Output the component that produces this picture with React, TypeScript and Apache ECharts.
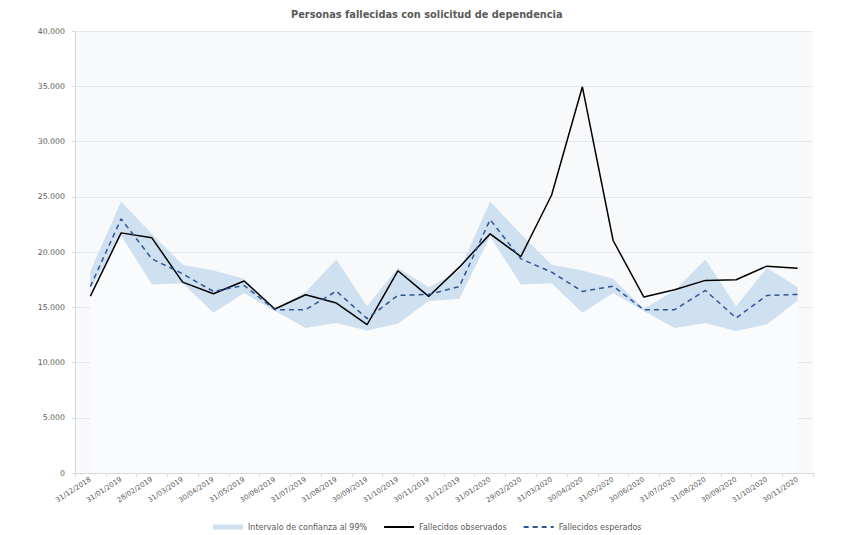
import React, { useEffect, useRef } from "react";
import * as echarts from "echarts";

const categories = [
  "31/12/2018", "31/01/2019", "28/02/2019", "31/03/2019", "30/04/2019", "31/05/2019",
  "30/06/2019", "31/07/2019", "31/08/2019", "30/09/2019", "31/10/2019", "30/11/2019",
  "31/12/2019", "31/01/2020", "29/02/2020", "31/03/2020", "30/04/2020", "31/05/2020",
  "30/06/2020", "31/07/2020", "31/08/2020", "30/09/2020", "31/10/2020", "30/11/2020",
];

const observed = [
  16000, 21730, 21280, 17270, 16220, 17370, 14840, 16130, 15380, 13420, 18300, 15980,
  18630, 21640, 19590, 25160, 34950, 21040, 15920, 16580, 17430, 17490, 18720, 18540,
];

const expected = [
  16880, 23000, 19380, 18030, 16430, 16970, 14780, 14780, 16460, 13970, 16070, 16160,
  16880, 22930, 19380, 18180, 16430, 16910, 14780, 14780, 16520, 14030, 16070, 16160,
];

const upperBound = [
  18270, 24560, 21640, 18840, 18330, 17580, 14870, 16370, 19320, 15080, 18570, 16820,
  18330, 24560, 21640, 18840, 18330, 17580, 14870, 16520, 19320, 15080, 18570, 16820,
];

const lowerBound = [
  16600, 21500, 17070, 17180, 14510, 16280, 14650, 13120, 13570, 12900, 13510, 15560,
  15770, 21400, 17070, 17180, 14510, 16280, 14650, 13120, 13570, 12850, 13450, 15620,
];

const yTicks = { min: 0, max: 40000, interval: 5000 };

const seriesNames = {
  band: "Intervalo de confianza al 99%",
  observed: "Fallecidos observados",
  expected: "Fallecidos esperados",
};

const fmt = (v: number) => String(v).replace(/\B(?=(\d{3})+(?!\d))/g, ".");

const FONT = "'DejaVu Sans', Verdana, sans-serif";
const TEXT = "#595959";
const PLOT_BG = "#f8f9fb";

export default function App() {
  const ref = useRef<HTMLDivElement>(null);

  useEffect(() => {
    if (!ref.current) return;
    const chart = echarts.init(ref.current, undefined, { renderer: "svg" });
    const bandWidth = upperBound.map((u, i) => +(u - lowerBound[i]).toFixed(0));

    chart.setOption({
      animation: false,
      backgroundColor: "#ffffff",
      textStyle: { fontFamily: FONT },
      title: {
        text: "Personas fallecidas con solicitud de dependencia",
        left: 286,
        top: 4,
        textStyle: { fontFamily: FONT, fontSize: 9.8, fontWeight: "bold", color: TEXT },
      },
      grid: {
        left: 75,
        right: 29,
        top: 31,
        bottom: 62,
        show: true,
        backgroundColor: PLOT_BG,
        borderWidth: 0,
      },
      legend: {
        top: 518,
        left: 208,
        itemWidth: 30,
        itemHeight: 5,
        itemGap: 16,
        textStyle: { fontFamily: FONT, fontSize: 8, color: TEXT },
        data: [
          { name: seriesNames.band, icon: "rect", itemStyle: { color: "#cfe0f1" } },
          { name: seriesNames.observed, itemStyle: { opacity: 0 } },
          { name: seriesNames.expected, itemStyle: { opacity: 0 } },
        ],
      },
      xAxis: {
        type: "category",
        data: categories,
        boundaryGap: true,
        axisLine: { show: true, lineStyle: { color: "#d9d9d9", width: 1 } },
        axisTick: { show: true, length: 4, lineStyle: { color: "#d9d9d9" } },
        axisLabel: {
          rotate: 33,
          interval: 0,
          fontSize: 7,
          color: TEXT,
          fontFamily: FONT,
          margin: 6,
        },
        splitLine: { show: false },
      },
      yAxis: {
        type: "value",
        min: yTicks.min,
        max: yTicks.max,
        interval: yTicks.interval,
        axisLine: { show: true, lineStyle: { color: "#d9d9d9" } },
        axisTick: { show: true, length: 3, lineStyle: { color: "#d9d9d9" } },
        axisLabel: {
          fontSize: 7.8,
          color: TEXT,
          fontFamily: FONT,
          margin: 10,
          formatter: (v: number) => fmt(v),
        },
        splitLine: { show: true, lineStyle: { color: "#e6e7ea", width: 1 } },
      },
      series: [
        {
          name: "lower",
          type: "line",
          stack: "band",
          data: lowerBound,
          symbol: "none",
          silent: true,
          lineStyle: { width: 0, opacity: 0 },
          areaStyle: { color: "#fafbfd", opacity: 1 },
          itemStyle: { color: "#fafbfd" },
          z: 1,
        },
        {
          name: seriesNames.band,
          type: "line",
          stack: "band",
          data: bandWidth,
          symbol: "none",
          silent: true,
          lineStyle: { width: 0, opacity: 0 },
          areaStyle: { color: "#cfe0f1", opacity: 1 },
          itemStyle: { color: "#cfe0f1" },
          z: 1,
        },
        {
          name: seriesNames.observed,
          type: "line",
          data: observed,
          symbol: "none",
          lineStyle: { color: "#000000", width: 1.5 },
          itemStyle: { color: "#000000" },
          z: 3,
        },
        {
          name: seriesNames.expected,
          type: "line",
          data: expected,
          symbol: "none",
          lineStyle: { color: "#2f5597", width: 1.5, type: [5, 4] },
          itemStyle: { color: "#2f5597" },
          z: 4,
        },
      ],
    });

    return () => chart.dispose();
  }, []);

  return (
    <div
      ref={ref}
      style={{ width: 842, height: 535, position: "fixed", left: 0, top: 0 }}
    />
  );
}
